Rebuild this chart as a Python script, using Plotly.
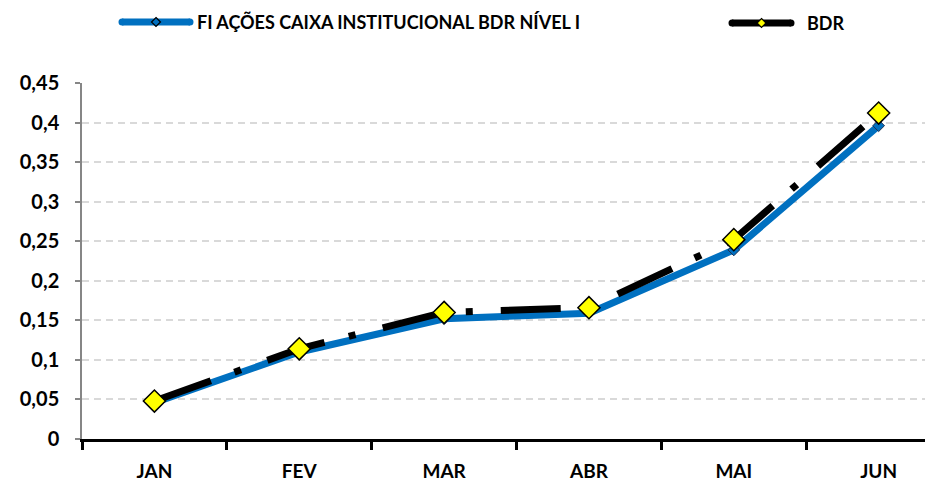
import plotly.graph_objects as go

months = ["JAN", "FEV", "MAR", "ABR", "MAI", "JUN"]
fi_caixa = [0.046, 0.110, 0.152, 0.159, 0.239, 0.396]
bdr = [0.048, 0.114, 0.160, 0.166, 0.252, 0.412]
y_ticks = [0, 0.05, 0.1, 0.15, 0.2, 0.25, 0.3, 0.35, 0.4, 0.45]

name_fi = "FI AÇÕES CAIXA INSTITUCIONAL BDR NÍVEL I"
name_bdr = "BDR"

W, H = 931, 482
L, R, T, B = 82, 6, 83, 43
FONT = "Lato"
BLUE = "#0070C0"

fig = go.Figure()
fig.add_trace(go.Scatter(
    x=months, y=fi_caixa, mode="lines+markers", name=name_fi,
    line=dict(color=BLUE, width=7),
    marker=dict(symbol="diamond", size=9, color=BLUE, line=dict(color="#1f2f4f", width=1)),
    showlegend=False,
))
fig.add_trace(go.Scatter(
    x=months, y=bdr, mode="lines+markers", name=name_bdr,
    line=dict(color="black", width=7, dash="60px,25px,7px,28px"),
    marker=dict(symbol="diamond", size=17, color="#FFFF00", line=dict(color="black", width=1.5)),
    showlegend=False,
))

def px_x(p):
    return (p - L) / (W - L - R)

def px_y(p):
    return (H - B - p) / (H - T - B)

shapes = []
annotations = []

def legend_item(x0, x1, yc, color, mfill, msize, mline, text, tx):
    shapes.append(dict(type="line", xref="paper", yref="paper",
                       x0=px_x(x0), x1=px_x(x1), y0=px_y(yc), y1=px_y(yc),
                       line=dict(color=color, width=7)))
    for cx in (x0, x1):
        shapes.append(dict(type="circle", xref="paper", yref="paper",
                           xsizemode="pixel", ysizemode="pixel",
                           xanchor=px_x(cx), yanchor=px_y(yc),
                           x0=-3.5, x1=3.5, y0=-3.5, y1=3.5,
                           fillcolor=color, line=dict(width=0)))
    mx = (x0 + x1) / 2
    s = msize
    shapes.append(dict(type="path", xref="paper", yref="paper",
                       xsizemode="pixel", ysizemode="pixel",
                       xanchor=px_x(mx), yanchor=px_y(yc),
                       path=f"M 0,{s} L {s},0 L 0,{-s} L {-s},0 Z",
                       fillcolor=mfill, line=dict(color=mline, width=1.2)))
    annotations.append(dict(xref="paper", yref="paper", x=px_x(tx), y=px_y(yc),
                            xanchor="left", yanchor="middle", showarrow=False,
                            text=f"<b>{text}</b>",
                            font=dict(family=FONT, size=18, color="black")))

legend_item(122, 190, 22, BLUE, BLUE, 4.5, "black", name_fi, 195)
legend_item(732, 791, 23, "black", "#FFFF00", 4.5, "black", name_bdr, 805)

fig.update_layout(
    width=W, height=H,
    margin=dict(l=L, r=R, t=T, b=B, autoexpand=False),
    paper_bgcolor="white", plot_bgcolor="white",
    separators=",.",
    showlegend=False,
    shapes=shapes,
    annotations=annotations,
    font=dict(family=FONT, color="black"),
)
fig.update_xaxes(
    type="category", range=[-0.5, 5.32], automargin=False,
    showgrid=False, showline=True, linecolor="black", linewidth=3,
    ticks="outside", tickson="boundaries", ticklen=8, tickwidth=3, tickcolor="black",
    tickfont=dict(family=FONT, size=19, color="black", weight="bold"),
    ticklabelstandoff=13,
    zeroline=False,
)
fig.update_yaxes(
    range=[0, 0.45], tickvals=y_ticks, automargin=False,
    showgrid=True, gridcolor="#d9d9d9", gridwidth=1.5, griddash="7px,5px",
    showline=True, linecolor="#868686", linewidth=1.5,
    ticks="outside", ticklen=5, tickcolor="#868686", tickwidth=1.5,
    tickfont=dict(family=FONT, size=20, color="black", weight="bold"),
    ticklabelstandoff=12,
    zeroline=False,
)

fig.write_html(
    "out.html",
    config={"displayModeBar": False},
    post_script="document.body.style.margin='0';document.body.style.overflow='hidden';",
)
